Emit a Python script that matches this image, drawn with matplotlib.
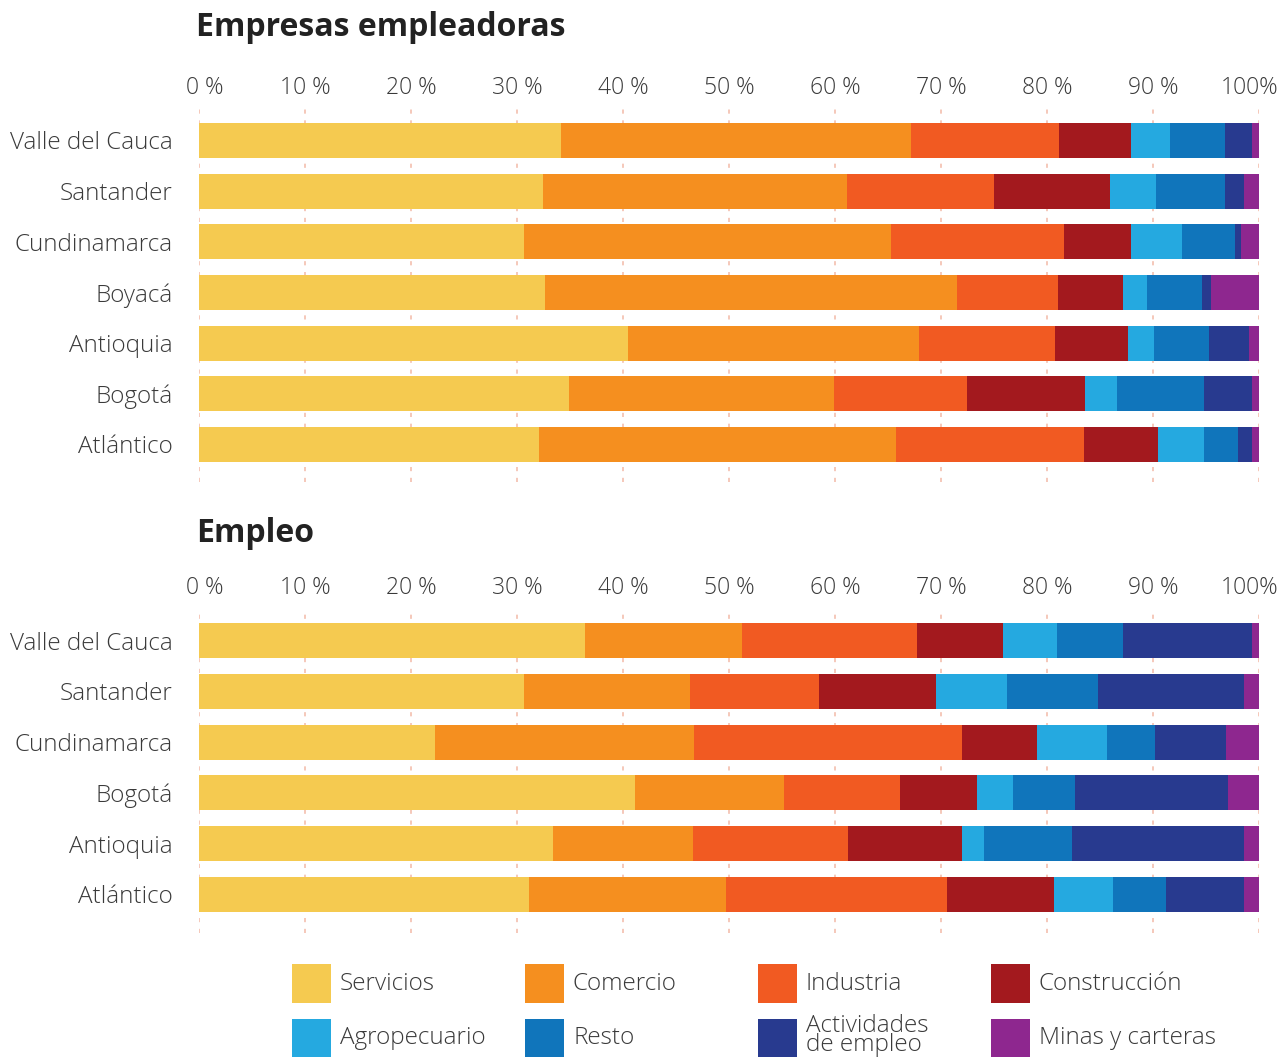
import numpy as np
import matplotlib.pyplot as plt
from matplotlib.patches import Rectangle
from matplotlib.transforms import ScaledTranslation

# sectores y colores
SECTORES = ["Servicios", "Comercio", "Industria", "Construcción",
            "Agropecuario", "Resto", "Actividades\nde empleo", "Minas y carteras"]
COLORES = ["#F5CA50", "#F58F1F", "#F15A22", "#A3191E",
           "#25A9E0", "#1075BB", "#283A8F", "#8E278F"]

# ============================
# Empresas empleadoras (% por sector)
# ============================
emp_regiones = ["Valle del Cauca", "Santander", "Cundinamarca", "Boyacá",
                "Antioquia", "Bogotá", "Atlántico"]
emp_servicios    = [34.1, 32.4, 30.6, 32.6, 40.4, 34.9, 32.0]
emp_comercio     = [33.0, 28.7, 34.7, 38.9, 27.5, 25.0, 33.7]
emp_industria    = [14.0, 13.9, 16.3, 9.5, 12.8, 12.5, 17.8]
emp_construccion = [6.8, 10.9, 6.3, 6.1, 6.9, 11.2, 6.9]
emp_agro         = [3.7, 4.4, 4.8, 2.3, 2.5, 3.0, 4.4]
emp_resto        = [5.2, 6.5, 5.0, 5.2, 5.2, 8.2, 3.2]
emp_actividades  = [2.5, 1.8, 0.6, 0.8, 3.7, 4.5, 1.3]
emp_minas        = [0.7, 1.4, 1.7, 4.6, 1.0, 0.7, 0.7]

# ============================
# Empleo (% por sector)
# ============================
empleo_regiones = ["Valle del Cauca", "Santander", "Cundinamarca", "Bogotá",
                   "Antioquia", "Atlántico"]
empleo_servicios    = [36.4, 30.6, 22.2, 41.1, 33.4, 31.1]
empleo_comercio     = [14.8, 15.7, 24.5, 14.1, 13.2, 18.6]
empleo_industria    = [16.5, 12.2, 25.3, 10.9, 14.6, 20.8]
empleo_construccion = [8.1, 11.0, 7.0, 7.3, 10.8, 10.1]
empleo_agro         = [5.1, 6.7, 6.6, 3.4, 2.0, 5.6]
empleo_resto        = [6.2, 8.6, 4.6, 5.8, 8.3, 5.0]
empleo_actividades  = [12.2, 13.8, 6.7, 14.4, 16.3, 7.4]
empleo_minas        = [0.7, 1.4, 3.1, 3.0, 1.4, 1.4]

XTICKS = list(range(0, 101, 10))
XTICK_LABELS = [f"{t} %" for t in XTICKS[:-1]] + ["100%"]

plt.rcParams['font.family'] = ['Open Sans', 'DejaVu Sans']
TEXTO = "#3A3A3A"
PESO = 'light'
W, H = 1281, 1057


def px_rect(top, bottom, left=199.3, right=1259.3):
    return [left / W, 1 - bottom / H, (right - left) / W, (bottom - top) / H]


def stacked(ax, regiones, series, top_pad, bottom_pad):
    data = np.array(series)
    y = np.arange(len(regiones))
    left = np.zeros(len(regiones))
    for vals, color in zip(data, COLORES):
        ax.barh(y, vals, left=left, color=color, height=0.69, linewidth=0, zorder=2)
        left += vals
    ax.set_xlim(0, 100)
    ax.set_ylim(len(regiones) - 1 + bottom_pad, -top_pad)
    ax.set_yticks(y)
    ax.set_yticklabels(regiones, fontsize=17.5, fontweight=PESO, color=TEXTO)
    ax.xaxis.tick_top()
    ax.set_xticks(XTICKS)
    ax.set_xticklabels(XTICK_LABELS, fontsize=16.5, fontweight=PESO, color=TEXTO)
    ax.tick_params(axis='x', length=0, pad=5.5)
    ax.tick_params(axis='y', length=0, pad=19)
    # primera y última etiqueta algo desplazadas hacia dentro
    ticks = ax.xaxis.get_major_ticks()
    for tick, dx in ((ticks[0], 5), (ticks[-1], -10)):
        lab = tick.label2
        lab.set_transform(lab.get_transform()
                          + ScaledTranslation(dx / 100, 0, fig.dpi_scale_trans))
    ax.grid(axis='x', color="#F3BFAE", linestyle=(0, (2.5, 4)), linewidth=1.2, zorder=0)
    ax.grid(axis='y', visible=False)
    for s in ax.spines.values():
        s.set_visible(False)


fig = plt.figure(figsize=(W / 100, H / 100), dpi=100)

ax1 = fig.add_axes(px_rect(108, 482))
stacked(ax1, emp_regiones,
        [emp_servicios, emp_comercio, emp_industria, emp_construccion,
         emp_agro, emp_resto, emp_actividades, emp_minas], 0.64, 0.74)

ax2 = fig.add_axes(px_rect(608, 933))
stacked(ax2, empleo_regiones,
        [empleo_servicios, empleo_comercio, empleo_industria, empleo_construccion,
         empleo_agro, empleo_resto, empleo_actividades, empleo_minas], 0.64, 0.76)

# capa para títulos y leyenda en pixeles
lay = fig.add_axes([0, 0, 1, 1], zorder=-1)
lay.set_xlim(0, W)
lay.set_ylim(H, 0)
lay.axis('off')

lay.text(196, 27, "Empresas empleadoras", fontsize=23, fontweight='bold',
         color="#222222", va='center', ha='left')
lay.text(196, 533, "Empleo", fontsize=23, fontweight='bold',
         color="#222222", va='center', ha='left')

for i, (nombre, color) in enumerate(zip(SECTORES, COLORES)):
    col, fila = i % 4, i // 4
    x0 = 292 + 233 * col
    y0 = 964 + 55 * fila
    lay.add_patch(Rectangle((x0, y0), 39, 39, color=color, linewidth=0))
    dy = 16.5 if "\n" in nombre else 19.5
    lay.text(x0 + 48, y0 + dy, nombre, fontsize=17.5, fontweight=PESO,
             color=TEXTO, va='center', ha='left', linespacing=0.75)

fig.savefig("out.png", dpi=100)
